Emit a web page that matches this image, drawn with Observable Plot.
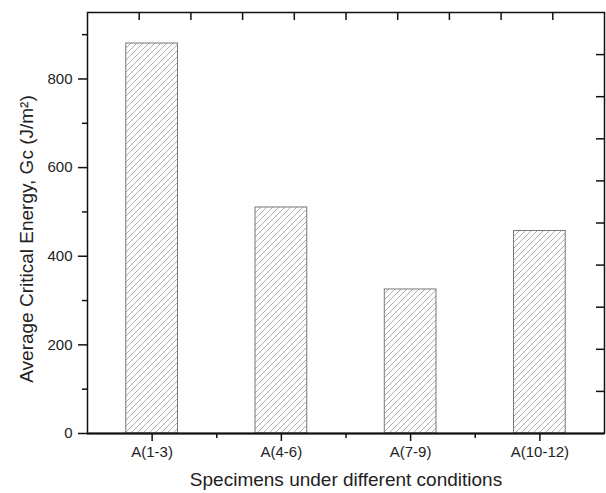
<!DOCTYPE html>
<html>
<head>
<meta charset="utf-8">
<script src="https://cdn.jsdelivr.net/npm/d3@7"></script>
<script src="https://cdn.jsdelivr.net/npm/@observablehq/plot@0.6"></script>
<style>
  html, body { margin: 0; padding: 0; background: #fff; }
  #chart { width: 606px; height: 493px; }
  svg { font-family: "Liberation Sans", Arial, sans-serif; }
</style>
</head>
<body>
<div id="chart"></div>
<script>
// ---- data ----
const categories = ["A(1-3)", "A(4-6)", "A(7-9)", "A(10-12)"];
const values = [880, 510, 325, 457];
const yMajorTicks = [0, 200, 400, 600, 800];
const yMinorTicks = [100, 300, 500, 700, 900];
const xCategoryTicks = [0, 1, 2, 3];
const xMinorTicks = [0.5, 1.5, 2.5];
const topTicks = [-0.1, 0.3, 0.7, 1.1, 1.5, 1.9, 2.3, 2.7, 3.1];
const rightTicks = [95, 190, 285, 380, 475, 570, 665, 760, 855];
const xTitle = "Specimens under different conditions";
const yTitle = "Average Critical Energy, Gc (J/m²)";

const data = categories.map((c, i) => ({category: c, index: i, value: values[i]}));

const W = 606, H = 493;
const mL = 87, mR = 2, mT = 12, mB = 60;
const plotW = W - mL - mR, plotH = H - mT - mB;
const halfBar = 0.2;

const chart = Plot.plot({
  width: W,
  height: H,
  marginLeft: mL,
  marginRight: mR,
  marginTop: mT,
  marginBottom: mB,
  style: {fontFamily: "'Liberation Sans', Arial, sans-serif", background: "#fff", color: "#222"},
  x: {type: "linear", domain: [-0.5, 3.5]},
  y: {domain: [0, 950]},
  marks: [
    Plot.rectY(data, {
      x1: d => d.index - halfBar,
      x2: d => d.index + halfBar,
      y1: 0,
      y2: "value",
      fill: "url(#hatch)",
      stroke: "#777",
      strokeWidth: 1
    }),
    Plot.axisY({ticks: yMajorTicks, tickSize: 9, tickPadding: 6, fontSize: 15, label: null, stroke: "#111", strokeWidth: 1.5}),
    Plot.axisY({ticks: yMinorTicks, tickSize: 5, tickFormat: () => "", label: null, stroke: "#111", strokeWidth: 1.5}),
    Plot.axisX({ticks: xCategoryTicks, tickFormat: i => categories[i], tickSize: 8, tickPadding: 5, fontSize: 15, label: null, stroke: "#111", strokeWidth: 1.5}),
    Plot.axisX({ticks: xMinorTicks, tickSize: 5, tickFormat: () => "", label: null, stroke: "#111", strokeWidth: 1.5}),
    Plot.ruleX(topTicks, {x: d => d, insetBottom: plotH - 8, stroke: "#111", strokeWidth: 1.5}),
    Plot.ruleY(rightTicks, {y: d => d, insetLeft: plotW - 8, stroke: "#111", strokeWidth: 1.5}),
    Plot.frame({stroke: "#111", strokeWidth: 1.5}),
    Plot.ruleY([0], {stroke: "#111", strokeWidth: 2}),
    Plot.text([xTitle], {frameAnchor: "bottom", text: d => d, dy: 46, lineAnchor: "middle", textAnchor: "middle", fontSize: 19, fill: "#222"}),
    Plot.text([yTitle], {frameAnchor: "left", text: d => d, dx: -61, dy: 16, rotate: -90, lineAnchor: "middle", textAnchor: "middle", fontSize: 19, fill: "#222"})
  ]
});

// hatch pattern
const svg = d3.select(chart.tagName.toLowerCase() === "svg" ? chart : chart.querySelector("svg"));
const defs = svg.insert("defs", ":first-child");
const pat = defs.append("pattern")
  .attr("id", "hatch")
  .attr("patternUnits", "userSpaceOnUse")
  .attr("width", 6)
  .attr("height", 6);
pat.append("rect").attr("width", 6).attr("height", 6).attr("fill", "#fff");
pat.append("path")
  .attr("d", "M-1,7 L7,-1 M-1,1 L1,-1 M5,7 L7,5")
  .attr("stroke", "#999")
  .attr("stroke-width", 0.8);

document.getElementById("chart").appendChild(chart);
</script>
</body>
</html>
